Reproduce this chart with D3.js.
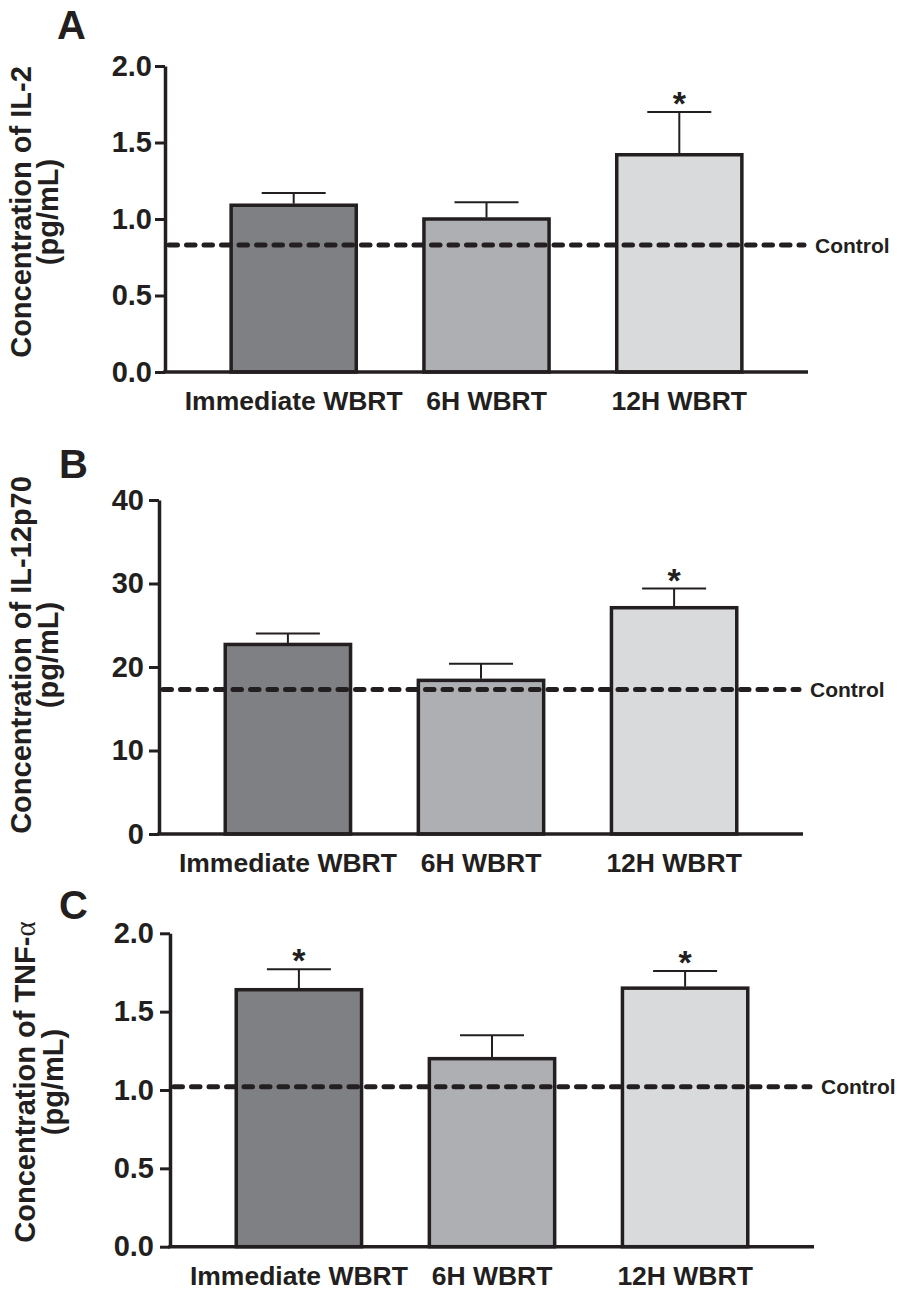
<!DOCTYPE html>
<html>
<head>
<meta charset="utf-8">
<script src="https://cdn.jsdelivr.net/npm/d3@7"></script>
<style>
  html, body { margin: 0; padding: 0; background: #ffffff; }
  svg { display: block; }
  text { font-family: "Liberation Sans", Arial, Helvetica, sans-serif; font-weight: bold; fill: #231f20; }
</style>
</head>
<body>
<svg id="chart" width="899" height="1295"></svg>
<script>
// ---------------- data ----------------
const categories = ["Immediate WBRT", "6H WBRT", "12H WBRT"];
const barColors = ["#7f8083", "#aeafb2", "#d9dadc"];

const il2Means   = [1.09, 1.00, 1.42];
const il2Errors  = [0.08, 0.11, 0.28];
const il2Control = 0.83;
const il2Sig     = [false, false, true];
const il2Ticks   = [0, 0.5, 1.0, 1.5, 2.0];

const il12Means   = [22.7, 18.4, 27.1];
const il12Errors  = [1.3, 2.0, 2.3];
const il12Control = 17.3;
const il12Sig     = [false, false, true];
const il12Ticks   = [0, 10, 20, 30, 40];

const tnfMeans   = [1.64, 1.20, 1.65];
const tnfErrors  = [0.13, 0.15, 0.11];
const tnfControl = 1.02;
const tnfSig     = [true, false, true];
const tnfTicks   = [0, 0.5, 1.0, 1.5, 2.0];

// ---------------- layout ----------------
const panels = [
  { letter: "A", means: il2Means, errors: il2Errors, control: il2Control, sig: il2Sig, ticks: il2Ticks,
    domain: [0, 2], fmt: d3.format(".1f"),
    x0: 165, x1: 808, yBottom: 372, yTop: 66, tickPad: 3,
    letterX: 57, letterY: 39,
    title: ["Concentration of IL-2", null], titleY: 212, t1x: 31, t2x: 58 },
  { letter: "B", means: il12Means, errors: il12Errors, control: il12Control, sig: il12Sig, ticks: il12Ticks,
    domain: [0, 40], fmt: d3.format("d"),
    x0: 159, x1: 803, yBottom: 834, yTop: 500, tickPad: 5,
    letterX: 59, letterY: 478,
    title: ["Concentration of IL-12p70", null], titleY: 655, t1x: 31, t2x: 58 },
  { letter: "C", means: tnfMeans, errors: tnfErrors, control: tnfControl, sig: tnfSig, ticks: tnfTicks,
    domain: [0, 2], fmt: d3.format(".1f"),
    x0: 170, x1: 814, yBottom: 1246.7, yTop: 933.3, tickPad: 6,
    letterX: 59, letterY: 919,
    title: ["Concentration of TNF-", "α"], titleY: 1082, t1x: 35, t2x: 63 }
];

const ink = "#231f20";
const svg = d3.select("#chart");

panels.forEach(p => {
  const g = svg.append("g");

  const x = d3.scaleBand()
    .domain(categories)
    .range([p.x0, p.x1])
    .paddingInner(0.351)
    .paddingOuter(0.343);

  const y = d3.scaleLinear().domain(p.domain).range([p.yBottom, p.yTop]);

  // bars
  g.selectAll("rect.bar")
    .data(categories)
    .join("rect")
    .attr("class", "bar")
    .attr("x", d => x(d))
    .attr("width", x.bandwidth())
    .attr("y", (d, i) => y(p.means[i]))
    .attr("height", (d, i) => y(0) - y(p.means[i]))
    .attr("fill", (d, i) => barColors[i])
    .attr("stroke", ink)
    .attr("stroke-width", 3.5);

  // control dashed line
  g.append("line")
    .attr("x1", p.x0 + 4).attr("x2", p.x1 - 4)
    .attr("y1", y(p.control)).attr("y2", y(p.control))
    .attr("stroke", ink)
    .attr("stroke-width", 5)
    .attr("stroke-linecap", "round")
    .attr("stroke-dasharray", "8.5,9");

  g.append("text")
    .attr("x", p.x1 + 7)
    .attr("y", y(p.control))
    .attr("dy", "0.36em")
    .attr("font-size", 21)
    .text("Control");

  // error bars
  const capHalf = 32;
  categories.forEach((c, i) => {
    const cx = x(c) + x.bandwidth() / 2;
    const yt = y(p.means[i] + p.errors[i]);
    g.append("line")
      .attr("x1", cx).attr("x2", cx)
      .attr("y1", y(p.means[i]) - 1.5).attr("y2", yt)
      .attr("stroke", ink).attr("stroke-width", 2);
    g.append("line")
      .attr("x1", cx - capHalf).attr("x2", cx + capHalf)
      .attr("y1", yt).attr("y2", yt)
      .attr("stroke", ink).attr("stroke-width", 2);
    if (p.sig[i]) {
      g.append("text")
        .attr("x", cx)
        .attr("y", yt + 3)
        .attr("text-anchor", "middle")
        .attr("font-size", 34)
        .text("*");
    }
  });

  // y axis
  const yAxis = d3.axisLeft(y)
    .tickValues(p.ticks)
    .tickFormat(p.fmt)
    .tickSize(10)
    .tickSizeOuter(0)
    .tickPadding(p.tickPad);
  const ya = g.append("g")
    .attr("transform", `translate(${p.x0},0)`)
    .call(yAxis);
  ya.select(".domain").attr("stroke", ink).attr("stroke-width", 3.5);
  ya.selectAll(".tick line").attr("stroke", ink).attr("stroke-width", 3);
  ya.selectAll(".tick text")
    .attr("font-size", 29)
    .attr("font-family", "'Liberation Sans', Arial, sans-serif")
    .attr("font-weight", "bold")
    .attr("fill", ink);

  // x axis
  const xAxis = d3.axisBottom(x).tickSize(0).tickPadding(19);
  const xa = g.append("g")
    .attr("transform", `translate(0,${p.yBottom})`)
    .call(xAxis);
  xa.select(".domain").remove();
  xa.selectAll(".tick text")
    .attr("font-size", 26.5)
    .attr("font-family", "'Liberation Sans', Arial, sans-serif")
    .attr("font-weight", "bold")
    .attr("fill", ink);
  g.append("line")
    .attr("x1", p.x0 - 1.75).attr("x2", p.x1)
    .attr("y1", p.yBottom).attr("y2", p.yBottom)
    .attr("stroke", ink).attr("stroke-width", 3.5);

  // panel letter
  g.append("text")
    .attr("x", p.letterX)
    .attr("y", p.letterY)
    .attr("font-size", 40)
    .text(p.letter);

  // y title
  const t1 = g.append("text")
    .attr("transform", `translate(${p.t1x},${p.titleY}) rotate(-90)`)
    .attr("text-anchor", "middle")
    .attr("font-size", 29);
  t1.append("tspan").text(p.title[0]);
  if (p.title[1]) {
    t1.append("tspan")
      .attr("font-family", "'Liberation Serif', 'DejaVu Serif', serif")
      .attr("font-weight", "normal")
      .text(p.title[1]);
  }
  g.append("text")
    .attr("transform", `translate(${p.t2x},${p.titleY}) rotate(-90)`)
    .attr("text-anchor", "middle")
    .attr("font-size", 29)
    .text("(pg/mL)");
});
</script>
</body>
</html>
